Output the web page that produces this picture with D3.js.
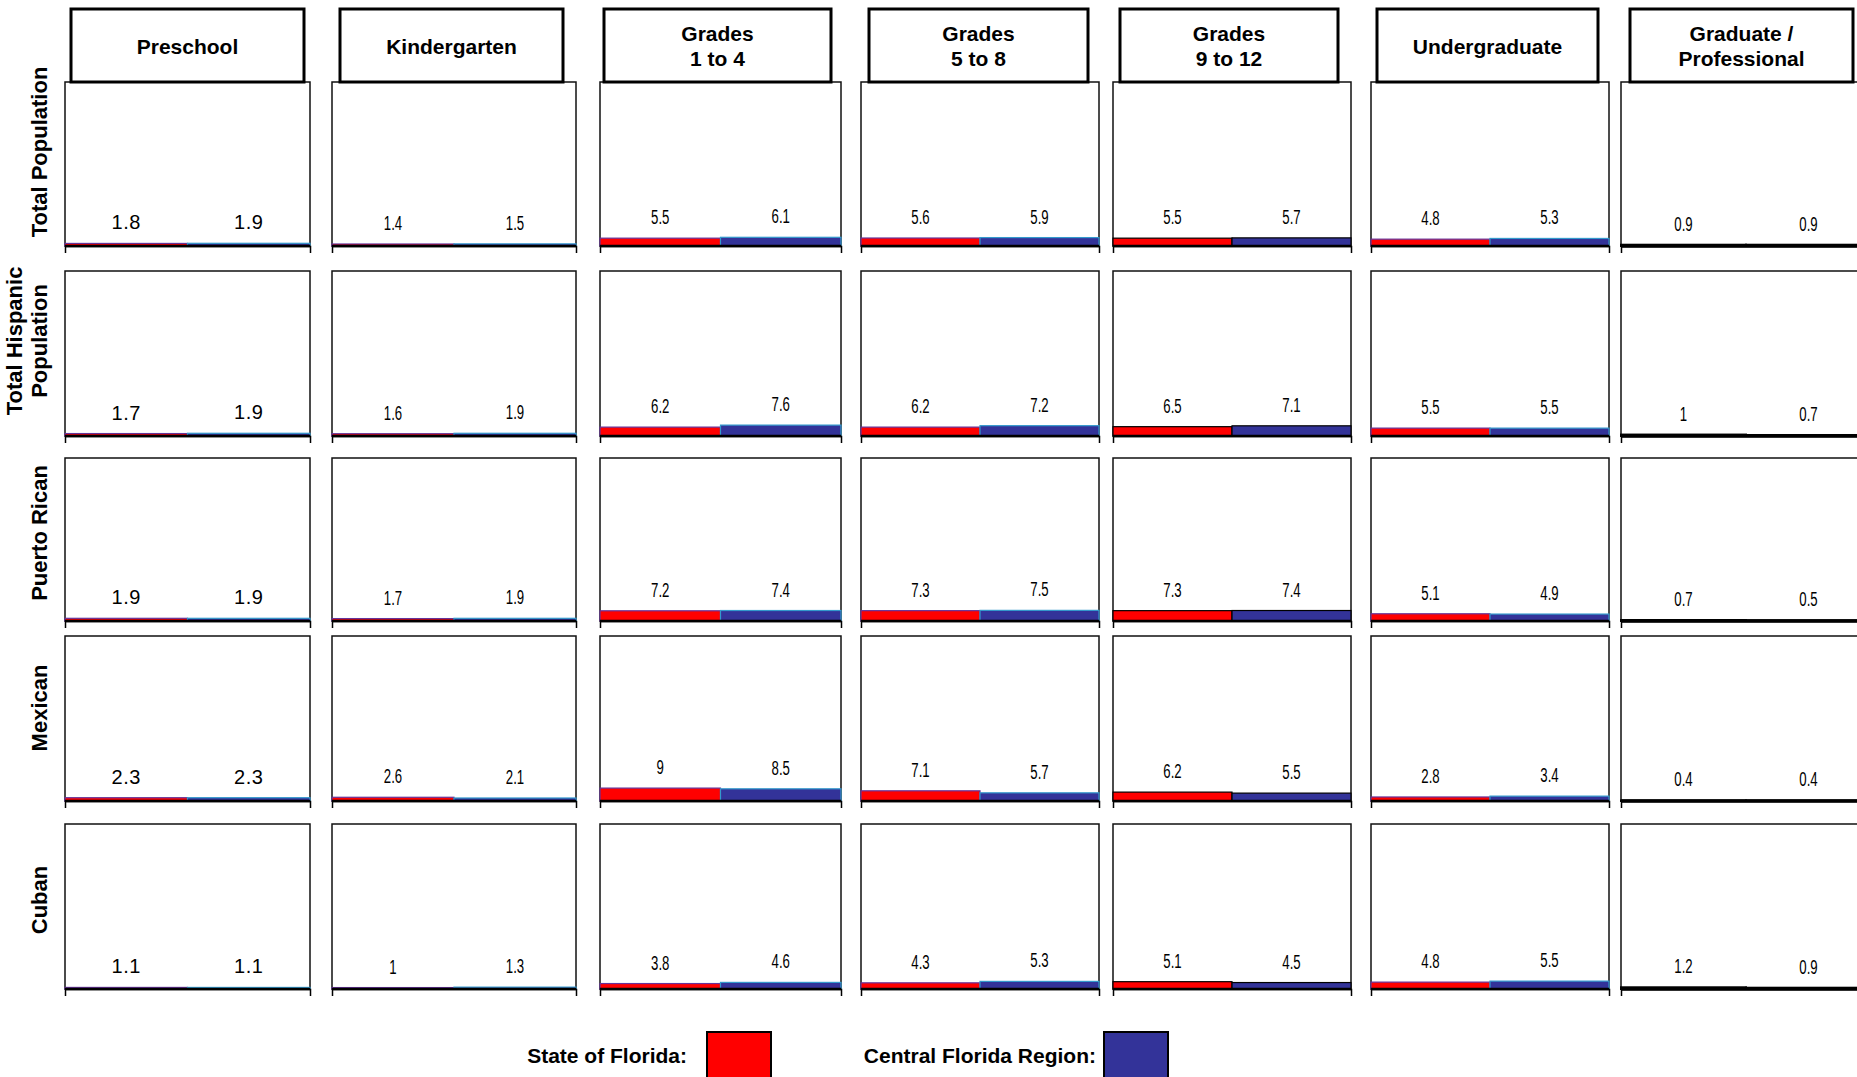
<!DOCTYPE html>
<html>
<head>
<meta charset="utf-8">
<script src="https://cdn.jsdelivr.net/npm/d3@7"></script>
<style>
  html, body { margin: 0; padding: 0; background: #fff; }
  svg { display: block; }
</style>
</head>
<body>
<svg id="chart" width="1857" height="1077"></svg>
<script>
// ---------- DATA ----------
const levels = [["Preschool"], ["Kindergarten"], ["Grades", "1 to 4"], ["Grades", "5 to 8"], ["Grades", "9 to 12"], ["Undergraduate"], ["Graduate /", "Professional"]];
const groups = [["Total Population"], ["Total Hispanic", "Population"], ["Puerto Rican"], ["Mexican"], ["Cuban"]];
const seriesNames = ["State of Florida:", "Central Florida Region:"];
const seriesColors = ["#FF0000", "#333399"];
const seriesEdge = ["#663399", "#3399CC"];
// State of Florida values, one row per population group, one entry per level
const floridaValues = [
  [1.8, 1.4, 5.5, 5.6, 5.5, 4.8, 0.9],
  [1.7, 1.6, 6.2, 6.2, 6.5, 5.5, 1],
  [1.9, 1.7, 7.2, 7.3, 7.3, 5.1, 0.7],
  [2.3, 2.6, 9, 7.1, 6.2, 2.8, 0.4],
  [1.1, 1, 3.8, 4.3, 5.1, 4.8, 1.2]
];
// Central Florida Region values
const centralValues = [
  [1.9, 1.5, 6.1, 5.9, 5.7, 5.3, 0.9],
  [1.9, 1.9, 7.6, 7.2, 7.1, 5.5, 0.7],
  [1.9, 1.9, 7.4, 7.5, 7.4, 4.9, 0.5],
  [2.3, 2.1, 8.5, 5.7, 5.5, 3.4, 0.4],
  [1.1, 1.3, 4.6, 5.3, 4.5, 5.5, 0.9]
];

// ---------- LAYOUT ----------
const colLeft  = [65, 332, 600, 861, 1113, 1371, 1621];
const colRight = [310, 576, 841, 1099, 1351, 1609, 1871];
const rowTop    = [82, 271, 458, 636, 824];
const rowBottom = [246, 436, 621, 801, 989];
const headLeft  = [71, 340, 604, 869, 1120, 1377, 1630];
const headRight = [304, 563, 831, 1088, 1338, 1598, 1853];
const headTop = 9, headBottom = 82;
const rowLabelY = [152, 341, 533, 708, 900];

const svg = d3.select("#chart");
const FONT = "'Liberation Sans', Arial, Helvetica, sans-serif";

// ---------- PANELS ----------
groups.forEach((g, r) => {
  levels.forEach((lv, c) => {
    const x = d3.scaleBand().domain(seriesNames).range([colLeft[c], colRight[c]]).padding(0);
    const y = d3.scaleLinear().domain([0, 115]).range([rowBottom[r], rowTop[r]]);
    const vals = [floridaValues[r][c], centralValues[r][c]];
    const panel = svg.append("g");

    // frame
    panel.append("rect")
      .attr("x", colLeft[c]).attr("y", rowTop[r])
      .attr("width", colRight[c] - colLeft[c]).attr("height", rowBottom[r] - rowTop[r])
      .attr("fill", "#fff").attr("stroke", "#111").attr("stroke-width", 1.5);

    // bars
    panel.selectAll("rect.bar").data(vals).join("rect")
      .attr("class", "bar")
      .attr("x", (d, i) => x(seriesNames[i]))
      .attr("width", x.bandwidth())
      .attr("y", d => y(d))
      .attr("height", d => y(0) - y(d))
      .attr("fill", (d, i) => seriesColors[i])
      .attr("stroke", (d, i) => (c === 4 || c === 6) ? "#000" : seriesEdge[i])
      .attr("stroke-width", c === 6 ? 2 : 1.2);

    // axis
    const ax = panel.append("g")
      .attr("transform", `translate(0,${y(0)})`)
      .call(d3.axisBottom(x).tickSize(0).tickSizeOuter(7).tickFormat(""));
    ax.select(".domain").attr("stroke", "#000").attr("stroke-width", 1.5);
    panel.append("line")
      .attr("x1", colLeft[c]).attr("x2", colRight[c])
      .attr("y1", y(0)).attr("y2", y(0))
      .attr("stroke", "#000").attr("stroke-width", c === 6 ? 3.5 : 2.5);

    // value labels
    vals.forEach((v, i) => {
      const lx = x(seriesNames[i]) + x.bandwidth() / 2;
      const ly = y(v) - 14;
      const t = panel.append("text")
        .attr("font-family", FONT)
        .attr("font-size", 20)
        .attr("fill", "#000")
        .attr("text-anchor", "middle")
        .text(String(v));
      if (c === 0) {
        t.attr("x", lx).attr("y", ly).attr("letter-spacing", 0.6);
      } else {
        t.attr("transform", `translate(${lx},${ly}) scale(0.66,1)`);
      }
    });
  });
});

// ---------- COLUMN HEADERS ----------
levels.forEach((lv, c) => {
  svg.append("rect")
    .attr("x", headLeft[c]).attr("y", headTop)
    .attr("width", headRight[c] - headLeft[c]).attr("height", headBottom - headTop)
    .attr("fill", "#fff").attr("stroke", "#000").attr("stroke-width", 3);
  const cx = (headLeft[c] + headRight[c]) / 2;
  const cy = (headTop + headBottom) / 2;
  const lh = 25;
  lv.forEach((line, k) => {
    svg.append("text")
      .attr("x", cx)
      .attr("y", cy + (k - (lv.length - 1) / 2) * lh + 8)
      .attr("text-anchor", "middle")
      .attr("font-family", FONT).attr("font-weight", "bold").attr("font-size", 21)
      .text(line);
  });
});

// ---------- ROW LABELS ----------
groups.forEach((g, r) => {
  const n = g.length;
  g.forEach((line, k) => {
    const lx = 47 - (n - 1 - k) * 25;
    svg.append("text")
      .attr("transform", `translate(${lx},${rowLabelY[r]}) rotate(-90)`)
      .attr("text-anchor", "middle")
      .attr("font-family", FONT).attr("font-weight", "bold").attr("font-size", 22)
      .text(line);
  });
});

// ---------- LEGEND ----------
const legendTextRight = [687, 1096];
const legendBoxLeft = [707, 1104];
seriesNames.forEach((name, i) => {
  svg.append("text")
    .attr("x", legendTextRight[i]).attr("y", 1063)
    .attr("text-anchor", "end")
    .attr("font-family", FONT).attr("font-weight", "bold").attr("font-size", 21)
    .text(name);
  svg.append("rect")
    .attr("x", legendBoxLeft[i]).attr("y", 1032)
    .attr("width", 64).attr("height", 50)
    .attr("fill", seriesColors[i]).attr("stroke", "#000").attr("stroke-width", 2);
});
</script>
</body>
</html>
